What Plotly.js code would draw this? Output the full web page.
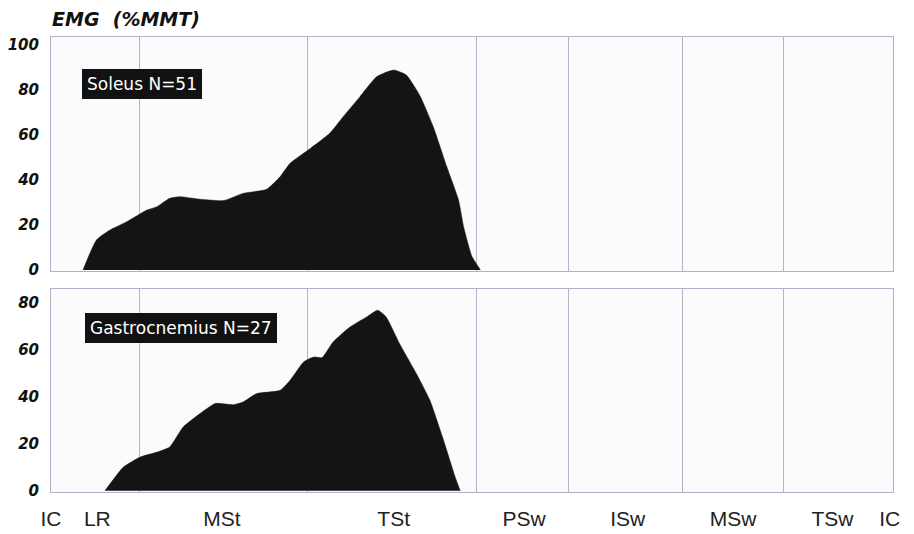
<!DOCTYPE html>
<html>
<head>
<meta charset="utf-8">
<script src="https://cdn.plot.ly/plotly-3.0.1.min.js"></script>
<style>html,body{margin:0;padding:0;background:#fff;}</style>
</head>
<body>
<div id="chart" style="width:914px;height:534px;"></div>
<script>
// Gait cycle (%) phase boundaries and phase labels
const phaseBounds = [0, 10.5, 30.5, 50.5, 61.5, 75, 87, 100];
const phaseLabelPos = [0, 5.5, 20.3, 40.7, 56.2, 68.5, 81, 92.8, 99.6];
const phaseLabels = ["IC", "LR", "MSt", "TSt", "PSw", "ISw", "MSw", "TSw", "IC"];

// Soleus mean EMG (%MMT) vs gait cycle (%)
const soleusX = [3.8, 5.4, 7.0, 9.0, 11.4, 12.6, 14.1, 15.3, 17.7, 20.5, 22.8, 25.6, 27.2, 28.4, 30.8, 33.1, 34.7, 36.7, 38.7, 40.7, 42.2, 43.8, 45.4, 47.0, 48.4, 49.0, 50.0, 51.0];
const soleusY = [0, 13.3, 17.7, 21.4, 26.6, 28.1, 31.8, 32.5, 31.4, 30.8, 34.0, 35.8, 41.4, 47.4, 54.0, 60.7, 68.1, 77.0, 85.9, 88.8, 86.6, 77.5, 63.6, 45.9, 31.1, 19.2, 5.9, 0];

// Gastrocnemius mean EMG (%MMT) vs gait cycle (%)
const gastroX = [6.4, 8.6, 10.6, 12.6, 14.1, 15.7, 17.7, 19.5, 21.7, 22.8, 24.4, 27.2, 28.4, 30.0, 31.2, 32.2, 33.5, 35.5, 37.5, 38.8, 39.8, 41.4, 43.4, 45.0, 46.5, 48.0, 48.6];
const gastroY = [0, 10.1, 14.4, 16.5, 18.7, 27.2, 32.9, 37.2, 36.7, 37.8, 41.4, 42.8, 47.1, 54.9, 57.0, 56.8, 63.4, 69.8, 74.1, 76.9, 74.1, 62.7, 49.9, 38.6, 22.9, 5.9, 0];

const muscleLabels = ["Soleus N=51", "Gastrocnemius N=27"];

const gridCol = "#b0b2c8";
const tickFont = {family: "DejaVu Sans", size: 15, weight: "bold", style: "italic", color: "#111"};

const traces = [
  {x: soleusX, y: soleusY, type: "scatter", mode: "lines", fill: "tozeroy",
   fillcolor: "#141414", line: {color: "#141414", width: 0.5, shape: "spline", smoothing: 0.5},
   xaxis: "x", yaxis: "y", hoverinfo: "skip"},
  {x: gastroX, y: gastroY, type: "scatter", mode: "lines", fill: "tozeroy",
   fillcolor: "#141414", line: {color: "#141414", width: 0.5, shape: "spline", smoothing: 0.5},
   xaxis: "x2", yaxis: "y2", hoverinfo: "skip"}
];

function xAx(anchor, showLabels) {
  return {
    anchor: anchor, domain: [0, 1], range: [0, 100],
    showgrid: false, zeroline: false,
    showline: true, mirror: true, linecolor: gridCol, linewidth: 1,
    tickmode: "array", tickvals: phaseLabelPos, ticktext: phaseLabels,
    showticklabels: showLabels, ticks: "",
    ticklabelstandoff: 8,
    tickfont: {family: "Liberation Sans", size: 21, color: "#222"},
    minor: {tickmode: "array", tickvals: phaseBounds, showgrid: true, gridcolor: gridCol, gridwidth: 1, ticks: ""},
    fixedrange: true
  };
}
function yAx(anchor, domain, range, vals) {
  return {
    anchor: anchor, domain: domain, range: range,
    showgrid: false, zeroline: false,
    showline: true, mirror: true, linecolor: gridCol, linewidth: 1,
    tickmode: "array", tickvals: vals, ticks: "",
    ticklabelstandoff: 8,
    tickfont: tickFont, fixedrange: true
  };
}

const layout = {
  width: 914, height: 534,
  margin: {l: 51, r: 21, t: 37, b: 42},
  paper_bgcolor: "#ffffff", plot_bgcolor: "#fbfbfd",
  showlegend: false,
  title: {text: "EMG\u00A0 (%MMT)", x: 52/914, xanchor: "left", xref: "container",
          y: 1 - 19/534, yanchor: "middle", yref: "container",
          font: {family: "DejaVu Sans", size: 19, weight: "bold", style: "italic", color: "#111"}},
  xaxis: xAx("y", false),
  yaxis: yAx("x", [0.4857, 1], [-0.5, 103.5], [0, 20, 40, 60, 80, 100]),
  xaxis2: xAx("y2", true),
  yaxis2: yAx("x2", [0, 0.4462], [-0.5, 86], [0, 20, 40, 60, 80]),
  annotations: [
    {text: muscleLabels[0], xref: "x", yref: "y", x: 10.8, y: 82.6, showarrow: false,
     bgcolor: "#111", bordercolor: "#111", borderwidth: 1, borderpad: 4,
     font: {family: "DejaVu Sans", size: 17, color: "#fff"}},
    {text: muscleLabels[1], xref: "x2", yref: "y2", x: 15.4, y: 69.2, showarrow: false,
     bgcolor: "#111", bordercolor: "#111", borderwidth: 1, borderpad: 4,
     font: {family: "DejaVu Sans", size: 17, color: "#fff"}}
  ]
};

Plotly.newPlot("chart", traces, layout, {displayModeBar: false, staticPlot: true});
</script>
</body>
</html>
